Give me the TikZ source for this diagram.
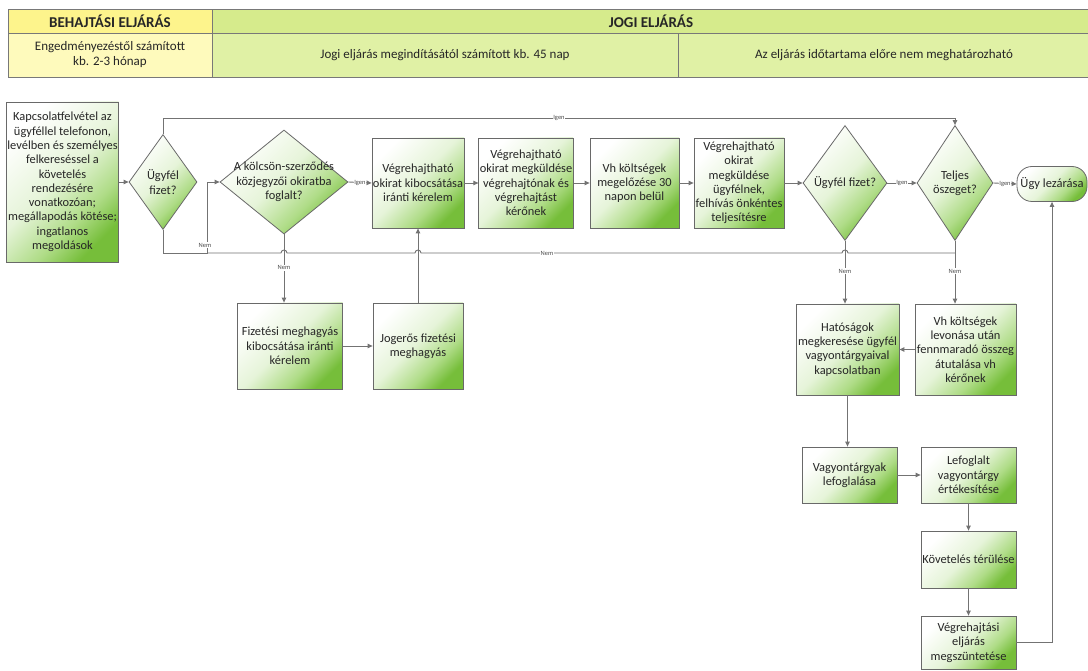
\documentclass[tikz,border=0pt]{standalone}
\usepackage{fontspec}
\setmainfont{Carlito}
\usetikzlibrary{shapes.geometric,arrows.meta}
\definecolor{lc}{RGB}{115,115,115}
\definecolor{bd}{RGB}{105,105,105}
\definecolor{gr}{RGB}{118,190,58}
\definecolor{grm}{RGB}{175,220,135}
\definecolor{grl}{RGB}{230,244,217}
\definecolor{ytop}{RGB}{253,244,140}
\definecolor{ybot}{RGB}{254,250,188}
\definecolor{gtop}{RGB}{214,235,140}
\definecolor{gbot}{RGB}{224,241,165}
\definecolor{hb}{RGB}{120,120,120}
\pgfdeclareverticalshading{boxsh}{100bp}{color(0bp)=(gr); color(25bp)=(gr); color(36bp)=(grm); color(52bp)=(grl); color(75bp)=(white); color(100bp)=(white)}
\begin{document}
\begin{tikzpicture}[x=1pt,y=-1pt,
 every node/.style={font=\fontsize{12.4}{14.3}\selectfont, text=black!85},
 gshade/.style={shade, shading=boxsh, shading angle=45},
 pbox/.style={draw=bd, line width=0.8pt, rectangle, align=center, inner sep=1pt, gshade},
 pdia/.style={draw=bd, line width=0.8pt, diamond, inner sep=0pt, aspect=1, gshade},
 pterm/.style={draw=bd, line width=0.8pt, rectangle, rounded corners=15pt, align=center,
   inner sep=1pt, gshade, font=\fontsize{12.5}{14}\selectfont},
 hcell/.style={draw=hb, line width=0.8pt, rectangle, align=center, inner sep=1pt},
 conn/.style={draw=lc, line width=0.9pt},
 arr/.style={conn, -{Triangle[length=5pt,width=4.5pt]}},
 lbl/.style={font=\fontsize{6.5}{7}\selectfont, fill=white, inner sep=0.6pt, text=black!70}]
\useasboundingbox (0,0) rectangle (1088,671);
\fill[white] (0,0) rectangle (1088,671);

% header
\node[hcell, fill=ytop, minimum width=204pt, minimum height=24pt, font=\fontsize{15}{16}\bfseries] (h1) at (110,21) {BEHAJTÁSI ELJÁRÁS};
\node[hcell, fill=gtop, minimum width=878pt, minimum height=24pt, font=\fontsize{15}{16}\bfseries] (h2) at (651,21) {JOGI ELJÁRÁS};
\node[hcell, fill=ybot, minimum width=204pt, minimum height=44pt, font=\fontsize{13}{15}\selectfont] (h3) at (110,55) {Engedményezéstől számított\\kb. 2-3 hónap};
\node[hcell, fill=gbot, minimum width=466pt, minimum height=44pt, font=\fontsize{13}{15}\selectfont] (h4) at (445,55) {Jogi eljárás megindításától számított kb. 45 nap};
\node[hcell, fill=gbot, minimum width=412pt, minimum height=44pt, font=\fontsize{13}{15}\selectfont] (h5) at (884,55) {Az eljárás időtartama előre nem meghatározható};

% main row
\node[pbox, minimum width=109pt, minimum height=160pt] (start) at (62.5,182) {Kapcsolatfelvétel az\\ügyféllel telefonon,\\levélben és személyes\\felkereséssel a\\követelés\\rendezésére\\vonatkozóan;\\megállapodás kötése;\\ingatlanos\\megoldások};
\node[pdia, minimum width=68pt, minimum height=95pt, label={[align=center]center:Ügyfél\\fizet?}] (d1) at (163,182) {};
\node[pdia, minimum width=128pt, minimum height=104pt, label={[align=center]center:A kölcsön-szerződés\\közjegyzői okiratba\\foglalt?}] (d2) at (284,182) {};
\node[pbox, minimum width=90pt, minimum height=90pt] (b1) at (418,183) {Végrehajtható\\okirat kibocsátása\\iránti kérelem};
\node[pbox, minimum width=94pt, minimum height=90pt] (b2) at (526,183) {Végrehajtható\\okirat megküldése\\végrehajtónak és\\végrehajtást\\kérőnek};
\node[pbox, minimum width=89pt, minimum height=90pt] (b3) at (634.5,183) {Vh költségek\\megelőzése 30\\napon belül};
\node[pbox, minimum width=90pt, minimum height=90pt] (b4) at (739,183) {Végrehajtható\\okirat\\megküldése\\ügyfélnek,\\felhívás önkéntes\\teljesítésre};
\node[pdia, minimum width=84pt, minimum height=115pt, label={[align=center]center:Ügyfél fizet?}] (d3) at (845,183) {};
\node[pdia, minimum width=76pt, minimum height=115pt, label={[align=center]center:Teljes\\öszeget?}] (d4) at (955,183) {};
\node[pterm, minimum width=70pt, minimum height=35pt] (term) at (1052,184) {Ügy lezárása};

% lower left
\node[pbox, minimum width=105pt, minimum height=86pt] (fiz) at (290,346) {Fizetési meghagyás\\kibocsátása iránti\\kérelem};
\node[pbox, minimum width=90pt, minimum height=86pt] (jog) at (418,346) {Jogerős fizetési\\meghagyás};

% lower right
\node[pbox, minimum width=103pt, minimum height=91pt] (hat) at (847.5,349.5) {Hatóságok\\megkeresése ügyfél\\vagyontárgyaival\\kapcsolatban};
\node[pbox, minimum width=101pt, minimum height=91pt] (vh) at (965.5,349.5) {Vh költségek\\levonása után\\fennmaradó összeg\\átutalása vh\\kérőnek};
\node[pbox, minimum width=95pt, minimum height=56pt] (vag) at (849.5,475) {Vagyontárgyak\\lefoglalása};
\node[pbox, minimum width=95pt, minimum height=56pt] (lef) at (968.5,475) {Lefoglalt\\vagyontárgy\\értékesítése};
\node[pbox, minimum width=95pt, minimum height=57pt] (kov) at (968.5,559.5) {Követelés térülése};
\node[pbox, minimum width=95pt, minimum height=53pt] (veg) at (968.5,642.5) {Végrehajtási\\eljárás\\megszüntetése};

% connectors
\coordinate (tl) at (163,118);
\coordinate (tr) at (955,118);
\coordinate (n1) at (207,253);
\coordinate (nr) at (955,253);

\draw[arr] (start.east) -- (d1.west);
\draw[arr] (d1.north) -- (tl) -- node[lbl]{Igen} (tr) -- (d4.north);
\draw[arr] (d1.south) |- (n1) |- (d2.west);
\node[lbl] at (205,245) {Nem};
\draw[conn] (nr) -- (848,253) arc[start angle=0,end angle=-180,radius=3]
  -- (421,253) arc[start angle=0,end angle=-180,radius=3]
  -- (287,253) arc[start angle=0,end angle=-180,radius=3] -- (n1);
\node[lbl] at (547,253) {Nem};
\draw[arr] (d2.east) -- node[lbl]{Igen} (b1.west);
\draw[arr] (b1) -- (b2);
\draw[arr] (b2) -- (b3);
\draw[arr] (b3) -- (b4);
\draw[arr] (b4) -- (d3.west);
\draw[arr] (d3.east) -- node[lbl]{Igen} (d4.west);
\draw[arr] (d4.east) -- node[lbl]{Igen} (term.west);
\draw[arr] (d2.south) -- node[lbl, pos=0.49]{Nem} (d2.south |- fiz.north);
\draw[arr] (fiz) -- (jog);
\draw[arr] (jog) -- (b1);
\draw[arr] (d3.south) -- node[lbl, pos=0.48]{Nem} (d3.south |- hat.north);
\draw[arr] (d4.south) -- node[lbl, pos=0.48]{Nem} (d4.south |- vh.north);
\draw[arr] (vh) -- (hat);
\draw[arr] (hat.south) -- (hat.south |- vag.north);
\draw[arr] (vag) -- (lef);
\draw[arr] (lef) -- (kov);
\draw[arr] (kov) -- (veg);
\draw[arr] (veg.east) -| (term.south);
\end{tikzpicture}
\end{document}
